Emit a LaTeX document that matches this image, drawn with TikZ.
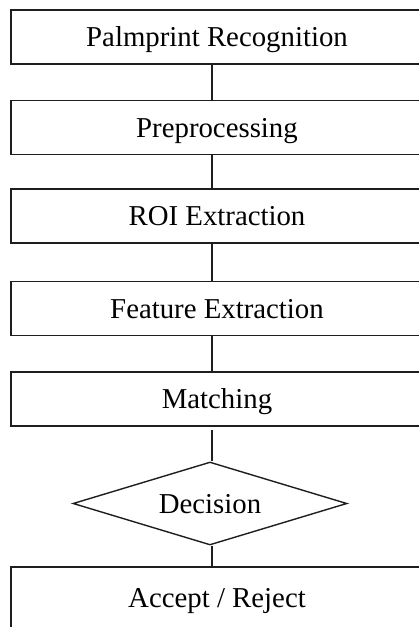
\documentclass[tikz,border=0pt]{standalone}
\usepackage{fontspec}
\setmainfont{Liberation Serif}
\usetikzlibrary{shapes.geometric}
\definecolor{linec}{HTML}{1E1E1E}
\tikzset{
  stepbox/.style={draw=linec, line width=1.4pt, rectangle, minimum width=412pt, minimum height=54pt, inner sep=0pt, text height=19.5pt, text depth=0pt, font=\fontsize{28.8}{34}\selectfont},
  decbox/.style={draw=linec, line width=1.4pt, diamond, aspect=3.3, minimum width=274pt, minimum height=83pt, inner sep=0pt, text height=19.5pt, text depth=0pt, font=\fontsize{28.8}{34}\selectfont},
  conn/.style={draw=linec, line width=1.4pt}
}
\begin{document}
\begin{tikzpicture}[x=1pt,y=-1pt]
\useasboundingbox (0,0) rectangle (419,627);
\clip (0,0) rectangle (419,627);
\node[stepbox] (b1) at (217,37) {Palmprint Recognition};
\node[stepbox] (b2) at (217,127.5) {Preprocessing};
\node[stepbox] (b3) at (217,216) {ROI Extraction};
\node[stepbox] (b4) at (217,308.5) {Feature Extraction};
\node[stepbox] (b5) at (217,399) {Matching};
\node[decbox] (d) at (210,503.5) {Decision};
\node[stepbox, minimum height=62pt] (b6) at (217,598) {Accept / Reject};
\draw[conn] ([xshift=-5pt]b1.south) -- ([xshift=-5pt]b2.north);
\draw[conn] ([xshift=-5pt]b2.south) -- ([xshift=-5pt]b3.north);
\draw[conn] ([xshift=-5pt]b3.south) -- ([xshift=-5pt]b4.north);
\draw[conn] ([xshift=-5pt]b4.south) -- ([xshift=-5pt]b5.north);
\draw[conn] ([xshift=-5pt,yshift=-3pt]b5.south) -- ([xshift=2pt]d.north);
\draw[conn] ([xshift=2pt]d.south) -- ([xshift=-5pt]b6.north);
\end{tikzpicture}
\end{document}
